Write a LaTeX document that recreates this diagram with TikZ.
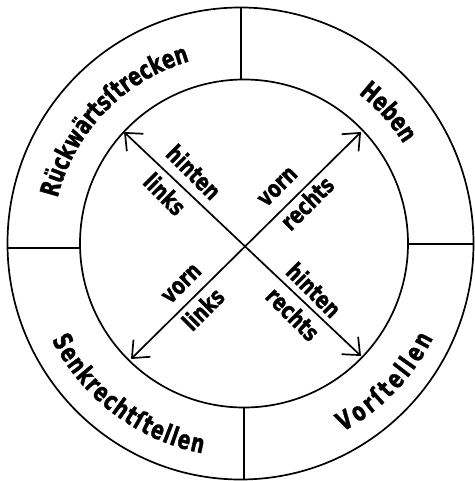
\documentclass[tikz,border=0pt]{standalone}
\usepackage{fontspec}
\newfontfamily\lett[FakeStretch=0.75,FakeBold=1.2]{DejaVu Sans}
\newfontfamily\arcf[FakeStretch=0.72,FakeBold=1.2]{DejaVu Sans}
\usetikzlibrary{arrows.meta,decorations.text}
\begin{document}
\begin{tikzpicture}[x=1pt,y=1pt,
  ring/.style={line width=1.7pt},
  divider/.style={line width=1.7pt},
  lab/.style={font=\lett\bfseries\fontsize{24}{24}\selectfont, inner sep=0pt},
  dbl/.style={{Straight Barb[length=14pt,width=24pt,line width=1.7pt]}-{Straight Barb[length=14pt,width=24pt,line width=1.7pt]}, line width=1.7pt},
  arctext/.style={decorate, decoration={text along path, text align=center,
     text={|\arcf\bfseries\fontsize{26}{26}\selectfont|#1}}}]
\useasboundingbox (-242,-237) rectangle (232,244);
% rings
\draw[ring] (-1.5,0.5) ellipse [x radius=233, y radius=236];
\draw[ring] (2,0.5) circle [radius=164];
% dividers
\coordinate (to) at (-1,236.5);  \coordinate (ti) at (-1,164.5);
\coordinate (bo) at (2,-235.5);  \coordinate (bi) at (2,-163.5);
\coordinate (lo) at (-234,-4);   \coordinate (li) at (-162,-4);
\coordinate (ro) at (231.5,0);   \coordinate (ri) at (166,0);
\draw[divider] (to) -- (ti);
\draw[divider] (bo) -- (bi);
\draw[divider] (lo) -- (li);
\draw[divider] (ro) -- (ri);
% arrows
\coordinate (ul) at (-118,112);
\coordinate (lr) at (119,-112);
\coordinate (ur) at (119,112);
\coordinate (ll) at (-111,-115);
\draw[dbl] (ul) -- (lr);
\draw[dbl] (ur) -- (ll);
% inner labels
\node[lab, rotate=-45] (h1) at (-48,72) {hinten};
\node[lab, rotate=-45] (l1) at (-77,50) {links};
\node[lab, rotate=45] (v1) at (36,57) {vorn};
\node[lab, rotate=45] (r1) at (65,41) {rechts};
\node[lab, rotate=45] (v2) at (-60,-40) {vorn};
\node[lab, rotate=45] (l2) at (-39,-65) {links};
\node[lab, rotate=-45] (h2) at (72,-46) {hinten};
\node[lab, rotate=-45] (r2) at (51,-70) {rechts};
% ring texts
\path[arctext=Rückwärtsſtrecken] (176:190) arc[start angle=176, end angle=96, radius=190];
\path[arctext=Heben] (72:190) arc[start angle=72, end angle=12, radius=190];
\path[arctext={{S\kern1.3pt}{e\kern1.3pt}{n\kern1.3pt}{k\kern1.3pt}{r\kern1.3pt}{e\kern1.3pt}{c\kern1.3pt}{h\kern1.3pt}{t\kern1.3pt}{ſ\kern1.3pt}{t\kern1.3pt}{e\kern1.3pt}{l\kern1.3pt}{l\kern1.3pt}{e\kern1.3pt}n}] (193:213) arc[start angle=193, end angle=273, radius=213];
\path[arctext={{V\kern3pt}{o\kern3pt}{r\kern3pt}{ſ\kern3pt}{t\kern3pt}{e\kern3pt}{l\kern3pt}{l\kern3pt}{e\kern3pt}n}] (-84:213) arc[start angle=-84, end angle=-4, radius=213];
\end{tikzpicture}
\end{document}
